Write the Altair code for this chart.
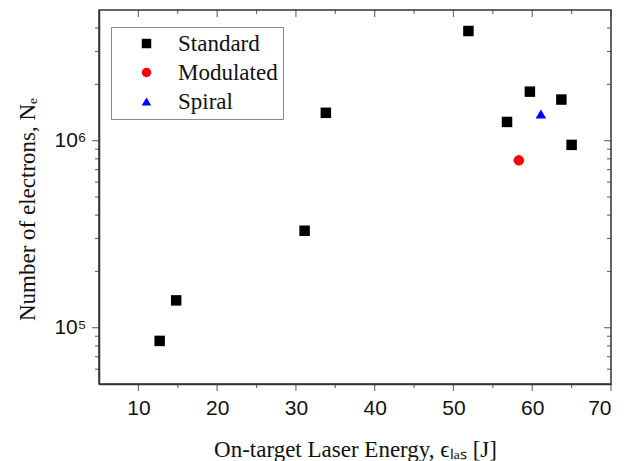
import altair as alt
import pandas as pd

# Data
standard_x = [12.7, 14.8, 31.1, 33.8, 51.9, 56.8, 59.7, 63.7, 65.0]
standard_y = [8.5e4, 1.4e5, 3.3e5, 1.41e6, 3.86e6, 1.26e6, 1.83e6, 1.66e6, 9.5e5]
modulated_x = [58.3]
modulated_y = [7.85e5]
spiral_x = [61.1]
spiral_y = [1.39e6]

series = ["Standard", "Modulated", "Spiral"]
shapes = ["square", "circle", "triangle-up"]
colors = ["#000000", "#ff0000", "#0000ff"]

x_major = [10, 20, 30, 40, 50, 60, 70]
x_minor = [15, 25, 35, 45, 55, 65]
y_major = [1e5, 1e6]
y_minor = [6e4, 7e4, 8e4, 9e4,
           2e5, 3e5, 4e5, 5e5, 6e5, 7e5, 8e5, 9e5,
           2e6, 3e6, 4e6]

x_title = "On-target Laser Energy, ϵₗₐₛ  [J]"
y_title = "Number of electrons, Nₑ"

rows = []
for xs, ys, name in [(standard_x, standard_y, "Standard"),
                     (modulated_x, modulated_y, "Modulated"),
                     (spiral_x, spiral_y, "Spiral")]:
    for a, b in zip(xs, ys):
        rows.append({"E": a, "N": b, "type": name})
df = pd.DataFrame(rows)

W, H = 512, 374
xscale = alt.Scale(domain=[5, 70], nice=False, zero=False)
yscale = alt.Scale(type="log", domain=[5e4, 5e6], nice=False)
TC = "#333"

x_axis = alt.Axis(values=x_major, ticks=False, grid=False, labelOverlap=False,
                  labelPadding=13, titlePadding=20)
y_axis = alt.Axis(values=y_major, ticks=False, grid=False, labelOverlap=False,
                  labelExpr="datum.value === 100000 ? '10⁵' : '10⁶'",
                  labelPadding=13, titlePadding=14, titleY=199)

points = alt.Chart(df).mark_point(filled=True, opacity=1, size=110, strokeWidth=0).encode(
    x=alt.X("E:Q", scale=xscale, title=x_title, axis=x_axis),
    y=alt.Y("N:Q", scale=yscale, title=y_title, axis=y_axis),
    shape=alt.Shape("type:N", scale=alt.Scale(domain=series, range=shapes),
                    legend=alt.Legend(title=None, orient="none", legendX=12, legendY=17)),
    color=alt.Color("type:N", scale=alt.Scale(domain=series, range=colors),
                    legend=alt.Legend(title=None, orient="none", legendX=12, legendY=17)),
)

def xt(vals, size, yc):
    return alt.Chart(pd.DataFrame({"t": vals})).mark_tick(
        color=TC, size=size, thickness=1.2, clip=False).encode(
        x=alt.X("t:Q", scale=xscale, title=x_title, axis=x_axis), y=alt.value(yc))

def yt(vals, size, xc):
    return alt.Chart(pd.DataFrame({"t": vals})).mark_tick(
        color=TC, size=size, thickness=1.2, clip=False).encode(
        y=alt.Y("t:Q", scale=yscale, title=y_title, axis=y_axis), x=alt.value(xc))

ticks = [
    xt(x_major, 7, 3.5), xt(x_minor, 4, 2),            # top, inward
    xt(x_major, 7, H + 3.5), xt(x_minor, 4, H + 2),    # bottom, outward
    yt(y_major, 7, W - 3.5), yt(y_minor, 4, W - 2),    # right, inward
    yt(y_major, 7, -3.5), yt(y_minor, 4, -2),          # left, outward
]

chart = alt.layer(points, *ticks).properties(
    width=W, height=H, padding={"left": 8, "top": 2, "right": 5, "bottom": 0}
).configure_view(
    stroke=TC, strokeWidth=1.5
).configure_axis(
    domainColor=TC, domainWidth=1.5,
    labelFont="Liberation Sans", labelFontSize=21, labelColor="#111",
    titleFont="Liberation Serif", titleFontSize=23, titleFontWeight="normal", titleColor="#111",
).configure_legend(
    labelFont="Liberation Serif", labelFontSize=23, labelColor="#111",
    strokeColor="#888", fillColor="white", padding=5, symbolOffset=19,
    labelOffset=20, rowPadding=5, symbolSize=90, symbolStrokeWidth=0,
)

chart.save("out.html", embed_options={"renderer": "svg", "actions": False})
